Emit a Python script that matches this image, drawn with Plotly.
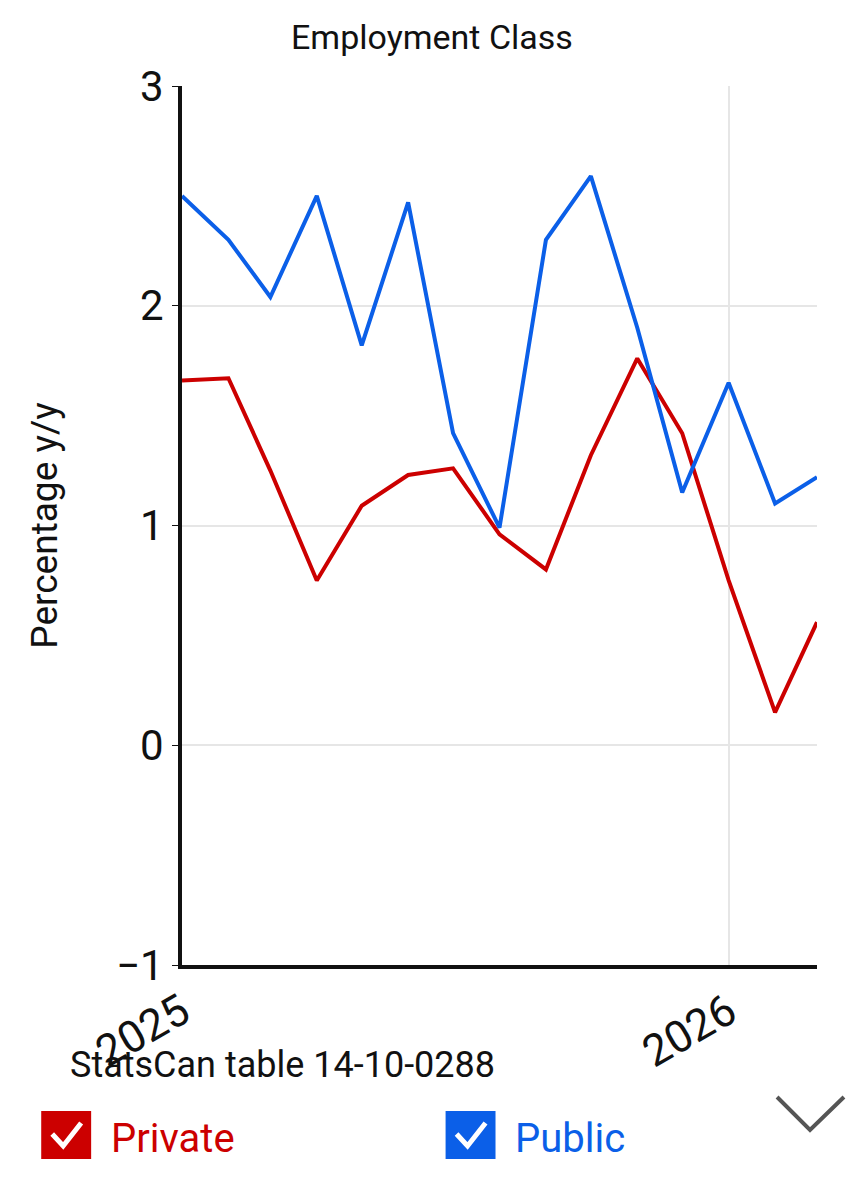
import plotly.graph_objects as go

months = ["2025-01-01","2025-02-01","2025-03-01","2025-04-01","2025-05-01","2025-06-01","2025-07-01","2025-08-01",
          "2025-09-01","2025-10-01","2025-11-01","2025-12-01","2026-01-01","2026-02-01","2026-03-01"]
private = [1.66,1.67,1.25,0.75,1.09,1.23,1.26,0.96,0.80,1.32,1.76,1.42,0.75,0.15,0.56]
public = [2.50,2.30,2.04,2.50,1.82,2.47,1.42,0.99,2.30,2.59,1.90,1.15,1.65,1.10,1.22]

L, R, T, B = 180, 816, 86, 965
def px(x): return (x - L) / (R - L)
def py(y): return (B - y) / (B - T)

fig = go.Figure()
fig.add_trace(go.Scatter(x=months, y=private, mode="lines", line=dict(color="#cc0000", width=4), name="Private"))
fig.add_trace(go.Scatter(x=months, y=public, mode="lines", line=dict(color="#0b5fe8", width=4), name="Public"))

fig.update_layout(
    width=858, height=1200, margin=dict(l=174, r=49, t=78, b=243),
    plot_bgcolor="white", paper_bgcolor="white", showlegend=False,
    font=dict(family="Roboto", color="#111"),
    xaxis=dict(range=["2025-01-01","2026-03-01"], tickvals=["2025-01-01","2026-01-01"], ticktext=["2025","2026"],
               tickangle=-30, tickfont=dict(size=44), showgrid=True, gridcolor="#e6e6e6", gridwidth=2,
               showline=True, linecolor="#111", linewidth=4, ticks="", zeroline=False),
    yaxis=dict(range=[-1,3], dtick=1, tickfont=dict(size=42), showgrid=True, gridcolor="#e6e6e6", gridwidth=2,
               showline=True, linecolor="#111", linewidth=4, ticks="outside", ticklen=6, tickcolor="#111",
               zeroline=False, title=dict(text="Percentage y/y", font=dict(size=37), standoff=48)),
)
fig.add_annotation(text="Employment Class", xref="paper", yref="paper", x=px(430), y=py(37), yanchor="middle",
                   showarrow=False, font=dict(size=34, color="#111"))
fig.add_annotation(text="StatsCan table 14-10-0288", xref="paper", yref="paper", x=px(66), y=py(1065), xanchor="left",
                   yanchor="middle", showarrow=False, font=dict(size=36, color="#111"))
for x0, col, lab in [(40, "#cc0000", "Private"), (445, "#0b5fe8", "Public")]:
    fig.add_shape(type="rect", xref="paper", yref="paper", x0=px(x0), x1=px(x0+48), y0=py(1158), y1=py(1112),
                  fillcolor=col, line=dict(color=col, width=2))
    pts = [(x0+10, 1134), (x0+21, 1146), (x0+39, 1123)]
    path = "M " + " L ".join(f"{px(a)},{py(b)}" for a, b in pts)
    fig.add_shape(type="path", xref="paper", yref="paper", path=path, line=dict(color="white", width=5))
    fig.add_annotation(text=lab, xref="paper", yref="paper", x=px(x0+67), y=py(1138), xanchor="left",
                       yanchor="middle", showarrow=False, font=dict(size=40, color=col))
pts = [(776, 1097), (809, 1130), (843, 1097)]
fig.add_shape(type="path", xref="paper", yref="paper",
              path="M " + " L ".join(f"{px(a)},{py(b)}" for a, b in pts), line=dict(color="#555", width=4))
fig.write_html("out.html")
